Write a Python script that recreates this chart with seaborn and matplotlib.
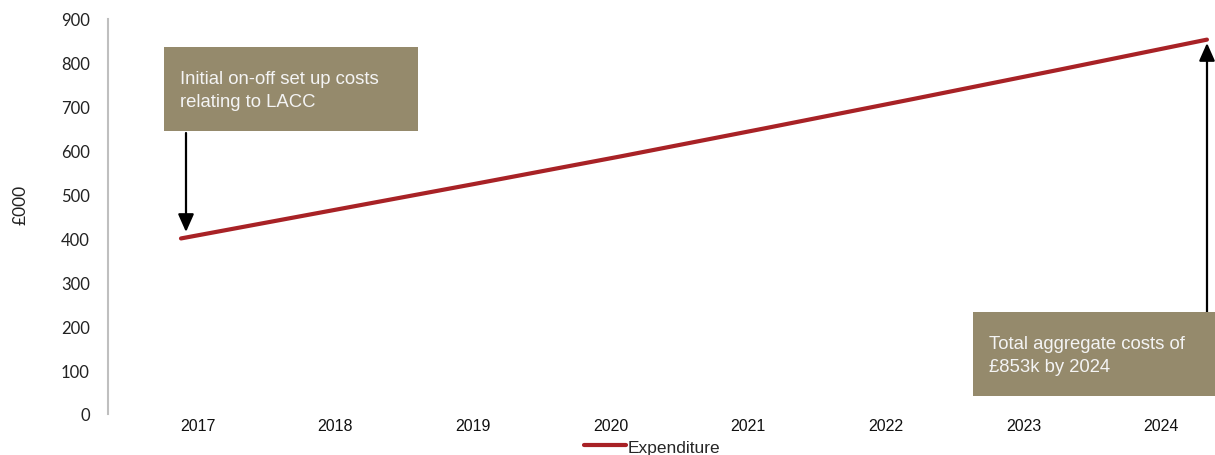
import matplotlib
matplotlib.use("Agg")
import matplotlib.pyplot as plt
from matplotlib.patches import Rectangle
import seaborn as sns
import pandas as pd
import numpy as np

years = ["2017", "2018", "2019", "2020", "2021", "2022", "2023", "2024"]
expenditure = [400, 462, 524, 587, 652, 718, 785, 853]
y_ticks = [0, 100, 200, 300, 400, 500, 600, 700, 800, 900]
series_name = "Expenditure"
note_start = "Initial on-off set up costs\nrelating to LACC"
note_end = "Total aggregate costs of\n£853k by 2024"

df = pd.DataFrame({"idx": np.arange(len(years)), "value": expenditure, "series": series_name})

sns.set_theme(style="white")
plt.rcParams["font.family"] = ["Liberation Sans", "DejaVu Sans"]

W, H = 1215, 456
fig = plt.figure(figsize=(W / 100, H / 100), dpi=100)
ax = fig.add_axes([108 / W, 41 / H, (W - 108) / W, 395 / H])

sns.lineplot(data=df, x="idx", y="value", hue="series", palette=["#a82226"],
             linewidth=3, ax=ax, legend=True)

ax.set_ylim(0, 900)
ax.set_xlim(-0.498, 7.055)
ax.set_yticks(y_ticks)
ax.set_yticklabels([str(t) for t in y_ticks], fontfamily="Lato", fontsize=12, color="#222222")
tick_pos = 0.1126 + np.arange(len(years)) * 0.9395
ax.set_xticks(tick_pos)
ax.set_xticklabels(years, fontfamily="Liberation Sans", fontsize=11.5, color="#111111")
ax.tick_params(axis="y", length=0, pad=13)
ax.tick_params(axis="x", length=0, pad=3)
for s in ["top", "right", "bottom"]:
    ax.spines[s].set_visible(False)
ax.spines["left"].set_color("#bfbfbf")
ax.spines["left"].set_linewidth(1.5)
ax.set_xlabel("")
ax.set_ylabel("£000", fontfamily="Lato", fontsize=12.5, color="#222222")
ax.yaxis.set_label_coords(-0.072, 0.532)

ax.legend(loc="center", bbox_to_anchor=(652 / W, 1 - 448 / H), bbox_transform=fig.transFigure,
          frameon=False, fontsize=12.5, handlelength=2.4, handletextpad=0.1, borderpad=0)

box_color = "#958a6c"
def fig_rect(x0, y0, x1, y1):
    fig.patches.append(Rectangle((x0 / W, 1 - y1 / H), (x1 - x0) / W, (y1 - y0) / H,
                                 transform=fig.transFigure, facecolor=box_color,
                                 edgecolor="none", zorder=3))

fig_rect(164, 48, 418, 132)
fig.text(180 / W, 1 - 91 / H, note_start, fontsize=13.3, color="#f4f4f4",
         va="center", ha="left", linespacing=1.4, zorder=4)
fig_rect(973, 313, 1215, 397)
fig.text(989 / W, 1 - 356 / H, note_end, fontsize=13.3, color="#f4f4f4",
         va="center", ha="left", linespacing=1.4, zorder=4)

arrow_kw = dict(arrowstyle="-|>,head_length=0.9,head_width=0.4", color="black", lw=1.6,
                shrinkA=0, shrinkB=0)
ax.annotate("", xy=(186, H - 233), xycoords="figure pixels",
            xytext=(186, H - 134), textcoords="figure pixels", arrowprops=arrow_kw)
ax.annotate("", xy=(1207, H - 44), xycoords="figure pixels",
            xytext=(1207, H - 313), textcoords="figure pixels", arrowprops=arrow_kw)

fig.savefig("out.png", dpi=100)
